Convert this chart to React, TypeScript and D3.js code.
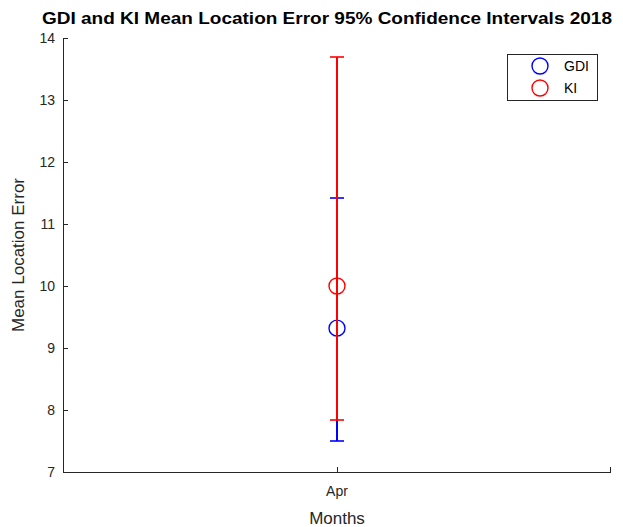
import React from "react";
import * as d3 from "d3";

const months = ["Apr"];
const seriesNames = ["GDI", "KI"];
const seriesColors = ["#0000ff", "#ff0000"];
const means = [9.32, 10.0];
const lowers = [7.5, 7.84];
const uppers = [11.42, 13.7];
const yTicks = [7, 8, 9, 10, 11, 12, 13, 14];

export default function App() {
  const W = 623, H = 527;
  const left = 63, right = 611, top = 38, bottom = 472;
  const x = d3.scalePoint<string>().domain(months).range([left, right]).padding(0.5);
  const y = d3.scaleLinear().domain([7, 14]).range([bottom, top]);
  const axisColor = "#262626";
  const font = "'Liberation Sans', Arial, Helvetica, sans-serif";
  const cx = x(months[0]) as number;
  const px = Math.round(cx);
  const py = (v: number) => Math.round(y(v));
  return (
    <svg width={W} height={H} style={{ position: "absolute", left: 0, top: 0 }}>
      <rect x={0} y={0} width={W} height={H} fill="#fff" />
      <text x={327} y={24} textAnchor="middle" fontFamily={font} fontWeight="bold" fontSize={17} textLength={570} lengthAdjust="spacingAndGlyphs" fill="#000">
        GDI and KI Mean Location Error 95% Confidence Intervals 2018
      </text>
      {/* axes */}
      <line x1={left + 0.5} y1={top} x2={left + 0.5} y2={bottom + 0.5} stroke={axisColor} strokeWidth={1} />
      <line x1={left} y1={bottom + 0.5} x2={right} y2={bottom + 0.5} stroke={axisColor} strokeWidth={1} />
      {yTicks.map((t) => (
        <g key={t}>
          <line x1={left} x2={left + 5} y1={py(t) + 0.5} y2={py(t) + 0.5} stroke={axisColor} strokeWidth={1} />
          <text x={left - 8} y={y(t) + 5} textAnchor="end" fontFamily={font} fontSize={14} fill={axisColor}>
            {t}
          </text>
        </g>
      ))}
      {months.map((m) => (
        <g key={m}>
          <line x1={px + 0.5} x2={px + 0.5} y1={bottom} y2={bottom - 5} stroke={axisColor} strokeWidth={1} />
          <text x={x(m)} y={bottom + 24} textAnchor="middle" fontFamily={font} fontSize={14} fill={axisColor}>
            {m}
          </text>
        </g>
      ))}
      <line x1={right - 0.5} x2={right - 0.5} y1={bottom} y2={bottom - 5} stroke={axisColor} strokeWidth={1} />
      <text x={(left + right) / 2} y={bottom + 52} textAnchor="middle" fontFamily={font} fontSize={17} fill={axisColor}>
        Months
      </text>
      <text transform={`translate(24,${(top + bottom) / 2}) rotate(-90)`} textAnchor="middle" fontFamily={font} fontSize={17} fill={axisColor}>
        Mean Location Error
      </text>
      {/* error bars */}
      {seriesNames.map((s, i) => (
        <g key={s}>
          <line x1={px} x2={px} y1={py(lowers[i])} y2={py(uppers[i])} stroke={seriesColors[i]} strokeWidth={2} />
          <line x1={px - 7} x2={px + 7} y1={py(lowers[i])} y2={py(lowers[i])} stroke={seriesColors[i]} strokeWidth={1.6} />
          <line x1={px - 7} x2={px + 7} y1={py(uppers[i])} y2={py(uppers[i])} stroke={seriesColors[i]} strokeWidth={1.6} />
          <circle cx={px} cy={y(means[i])} r={8} fill="none" stroke={seriesColors[i]} strokeWidth={1.4} />
        </g>
      ))}
      {/* legend */}
      <rect x={507.5} y={54.5} width={90} height={46} fill="#fff" stroke={axisColor} strokeWidth={1} />
      {seriesNames.map((s, i) => (
        <g key={s}>
          <circle cx={540} cy={66 + i * 22} r={8} fill="none" stroke={seriesColors[i]} strokeWidth={1.4} />
          <text x={564} y={71 + i * 22} fontFamily={font} fontSize={14} fill="#000">
            {s}
          </text>
        </g>
      ))}
    </svg>
  );
}
